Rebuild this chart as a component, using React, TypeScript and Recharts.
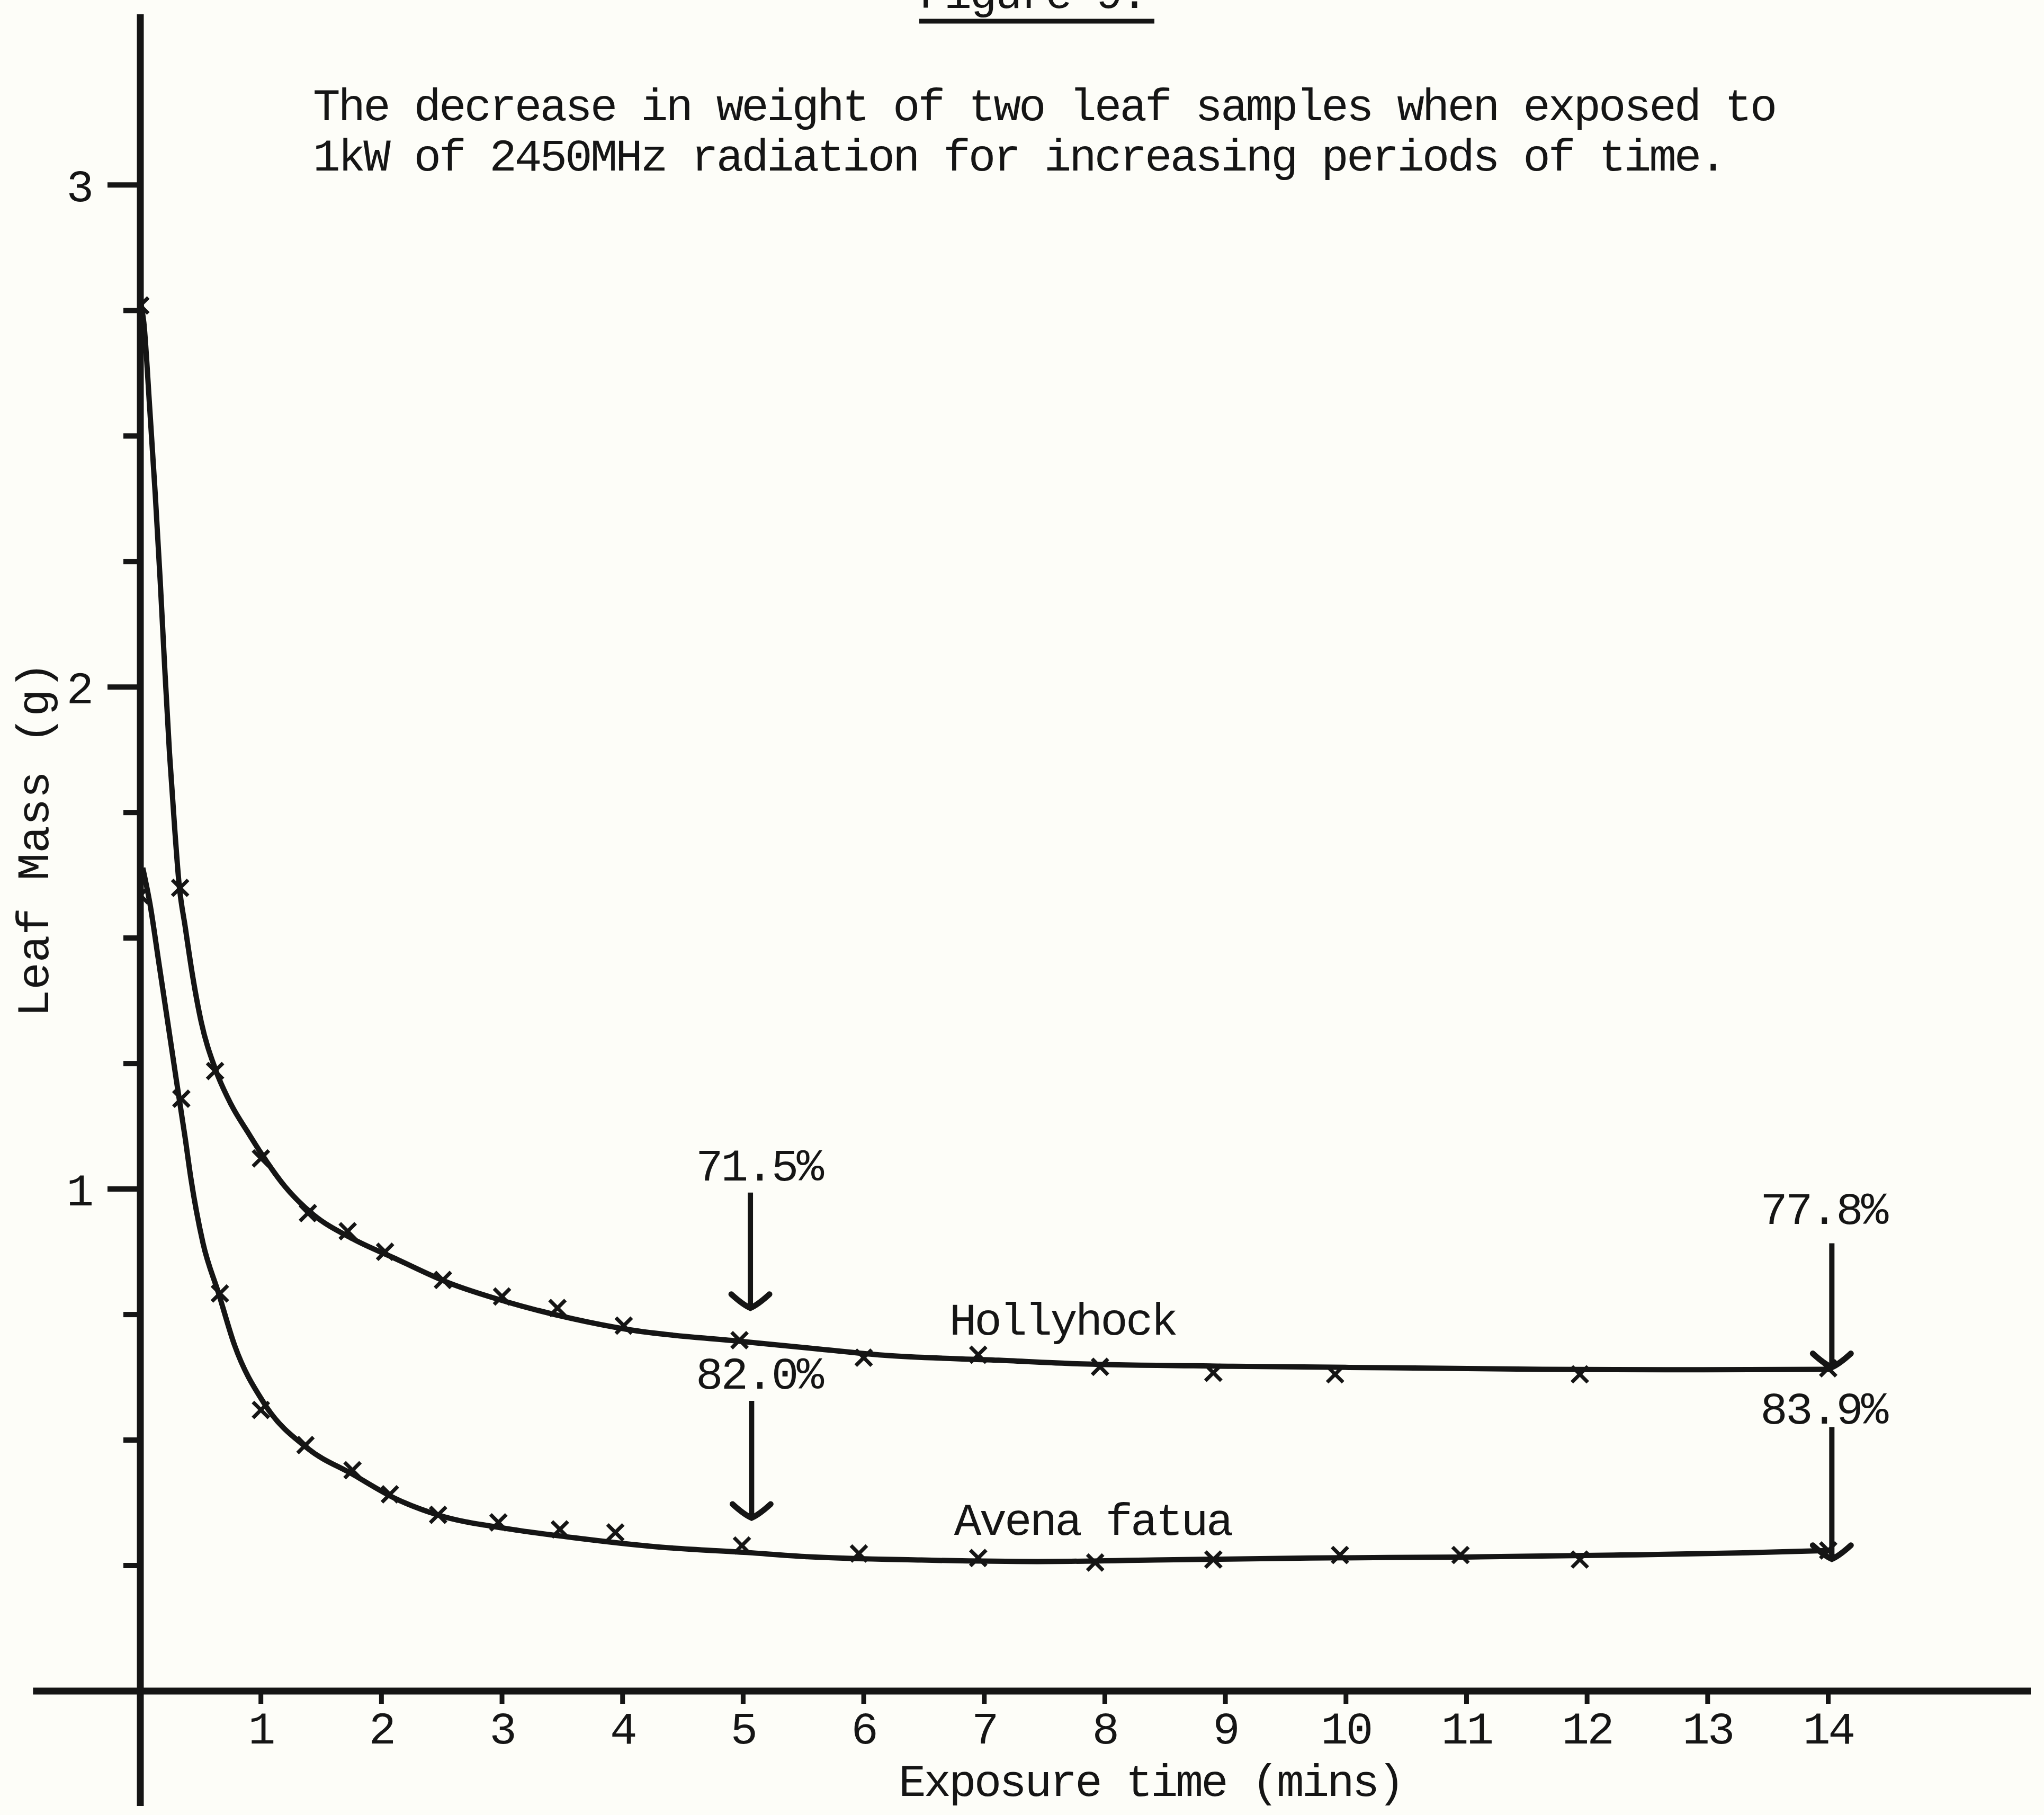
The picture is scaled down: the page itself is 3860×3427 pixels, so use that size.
import React from 'react';
import { LineChart, Line, XAxis, YAxis, ReferenceLine, ReferenceDot } from 'recharts';

const W = 3860;
const H = 3427;
const INK = '#151515';
const FONT = '"Liberation Mono", "DejaVu Sans Mono", monospace';

// Hollyhock: measured points (exposure time in mins, leaf mass in g)
const hollyTime = [0, 0.33, 0.62, 1.0, 1.39, 1.72, 2.03, 2.51, 3.0, 3.46, 4.01, 4.97, 6.0, 6.95, 7.96, 8.9, 9.91, 11.94, 14.0];
const hollyMass = [2.76, 1.6, 1.235, 1.061, 0.952, 0.916, 0.875, 0.819, 0.786, 0.763, 0.728, 0.699, 0.664, 0.67, 0.646, 0.634, 0.631, 0.631, 0.643];

// Avena fatua: measured points
const avenaTime = [0, 0.34, 0.66, 1.0, 1.37, 1.76, 2.07, 2.47, 2.97, 3.48, 3.94, 4.99, 5.96, 6.95, 7.92, 8.9, 9.95, 10.95, 11.94, 14.0];
const avenaMass = [1.585, 1.18, 0.792, 0.56, 0.49, 0.44, 0.392, 0.351, 0.336, 0.322, 0.316, 0.29, 0.274, 0.265, 0.256, 0.262, 0.271, 0.271, 0.262, 0.28];

// hand-drawn fitted curves
const hollyCurveTime = [0, 0.029, 0.078, 0.124, 0.165, 0.202, 0.242, 0.286, 0.322, 0.373, 0.432, 0.505, 0.622, 0.754, 0.9, 1.0, 1.2, 1.43, 1.76, 2.12, 2.56, 3.03, 3.58, 4.05, 4.96, 5.64, 6.16, 7.12, 7.77, 9.06, 10.34, 11.63, 12.92, 14.02];
const hollyCurveMass = [2.77, 2.726, 2.555, 2.383, 2.211, 2.04, 1.868, 1.715, 1.606, 1.521, 1.427, 1.333, 1.239, 1.168, 1.11, 1.072, 1.005, 0.95, 0.901, 0.861, 0.813, 0.776, 0.742, 0.72, 0.697, 0.681, 0.669, 0.659, 0.652, 0.647, 0.644, 0.641, 0.64, 0.641];
const avenaCurveTime = [0.02, 0.08, 0.154, 0.227, 0.3, 0.373, 0.417, 0.52, 0.651, 0.78, 1.03, 1.39, 1.76, 2.12, 2.48, 3.03, 3.58, 4.3, 5.03, 5.51, 6.48, 7.44, 8.41, 9.7, 10.99, 12.28, 13.24, 14.02];
const avenaCurveMass = [1.64, 1.568, 1.45, 1.333, 1.215, 1.1, 1.025, 0.892, 0.791, 0.69, 0.572, 0.483, 0.432, 0.383, 0.35, 0.324, 0.306, 0.287, 0.276, 0.268, 0.261, 0.258, 0.261, 0.265, 0.267, 0.271, 0.275, 0.28];

const xTicks = [1, 2, 3, 4, 5, 6, 7, 8, 9, 10, 11, 12, 13, 14];
const yTicks = [0.25, 0.5, 0.75, 1, 1.25, 1.5, 1.75, 2, 2.25, 2.5, 2.75, 3];
const yLabelled = [1, 2, 3];

// percentage-loss arrows
const pctText = ['71.5%', '82.0%', '77.8%', '83.9%'];
const pctTime = [5.13, 5.13, 13.96, 13.96];
const pctMass = [1.017, 0.602, 0.931, 0.533];
const arrowTime = [5.06, 5.07, 14.03, 14.03];
const arrowFrom = [0.993, 0.578, 0.892, 0.526];
const arrowTo = [0.763, 0.345, 0.645, 0.263];

// curve names
const seriesNames = ['Hollyhock', 'Avena fatua'];
const nameTime = [6.71, 6.75];
const nameMass = [0.71, 0.311];

const hollyData = hollyTime.map((t, i) => ({ t, m: hollyMass[i] }));
const avenaData = avenaTime.map((t, i) => ({ t, m: avenaMass[i] }));
const hollyCurve = hollyCurveTime.map((t, i) => ({ t, m: hollyCurveMass[i] }));
const avenaCurve = avenaCurveTime.map((t, i) => ({ t, m: avenaCurveMass[i] }));

const textStyle = { fontFamily: FONT, fontSize: 86, letterSpacing: -4, fill: INK };

const Cross = (p: any) => {
  const { cx, cy, index } = p;
  if (cx == null || cy == null) return <g key={`c-${index}`} />;
  const s = 15;
  return (
    <g key={`c-${index}`}>
      <line x1={cx - s} y1={cy - s} x2={cx + s} y2={cy + s} stroke={INK} strokeWidth={7} />
      <line x1={cx - s} y1={cy + s} x2={cx + s} y2={cy - s} stroke={INK} strokeWidth={7} />
    </g>
  );
};

const YTick = (p: any) => {
  const { x, y, payload } = p;
  const major = yLabelled.includes(payload.value);
  const len = major ? 62 : 32;
  return (
    <g>
      <line x1={x - len} x2={x} y1={y} y2={y} stroke={INK} strokeWidth={10} />
      {major && (
        <text x={x - 92} y={y} dy="0.36em" textAnchor="end" {...textStyle}>
          {payload.value}
        </text>
      )}
    </g>
  );
};

const Arrow = (p: any) => {
  const { x1, y1, x2, y2 } = p;
  return (
    <g>
      <line x1={x1} y1={y1} x2={x2} y2={y2} stroke={INK} strokeWidth={10} />
      <path
        d={`M${x2 - 36},${y2 - 26} Q${x2 - 14},${y2 - 6} ${x2},${y2} Q${x2 + 14},${y2 - 6} ${x2 + 36},${y2 - 26}`}
        fill="none"
        stroke={INK}
        strokeWidth={11}
        strokeLinecap="round"
      />
    </g>
  );
};

const textAt = (value: string, anchor: 'start' | 'middle') => (p: any) => (
  <text x={p.cx} y={p.cy} textAnchor={anchor} {...textStyle}>
    {value}
  </text>
);

const App = () => {
  return (
    <div style={{ position: 'absolute', left: 0, top: 0, width: W, height: H, background: '#fdfdf8' }}>
      <LineChart width={W} height={H} margin={{ top: 27, right: 25, bottom: 34, left: 0 }}>
        <XAxis
          type="number"
          dataKey="t"
          domain={[0, 15.68]}
          allowDataOverflow
          ticks={xTicks}
          interval={0}
          height={200}
          tickSize={24}
          tickMargin={14}
          axisLine={{ stroke: INK, strokeWidth: 13 }}
          tickLine={{ stroke: INK, strokeWidth: 9 }}
          tick={{ fill: INK, fontSize: 86, fontFamily: FONT, letterSpacing: -4 }}
        />
        <YAxis
          type="number"
          domain={[0, 3.34]}
          allowDataOverflow
          ticks={yTicks}
          interval={0}
          width={265}
          tickSize={0}
          tickMargin={0}
          tickLine={false}
          axisLine={{ stroke: INK, strokeWidth: 13 }}
          tick={<YTick />}
        />
        <ReferenceLine segment={[{ x: -0.89, y: 0 }, { x: 0, y: 0 }]} stroke={INK} strokeWidth={13} ifOverflow="visible" />
        <ReferenceLine segment={[{ x: 0, y: 0 }, { x: 0, y: -0.229 }]} stroke={INK} strokeWidth={13} ifOverflow="visible" />

        <Line
          data={hollyCurve}
          dataKey="m"
          type="monotone"
          stroke={INK}
          strokeWidth={10}
          dot={false}
          activeDot={false}
          isAnimationActive={false}
        />
        <Line
          data={avenaCurve}
          dataKey="m"
          type="monotone"
          stroke={INK}
          strokeWidth={10}
          dot={false}
          activeDot={false}
          isAnimationActive={false}
        />
        <Line
          data={hollyData}
          dataKey="m"
          stroke="none"
          strokeWidth={0}
          dot={Cross}
          activeDot={false}
          isAnimationActive={false}
        />
        <Line
          data={avenaData}
          dataKey="m"
          stroke="none"
          strokeWidth={0}
          dot={Cross}
          activeDot={false}
          isAnimationActive={false}
        />

        {arrowTime.map((t, i) => (
          <ReferenceLine
            key={`a-${i}`}
            segment={[{ x: t, y: arrowFrom[i] }, { x: t, y: arrowTo[i] }]}
            ifOverflow="visible"
            shape={Arrow}
          />
        ))}
        {pctText.map((s, i) => (
          <ReferenceDot key={`p-${i}`} x={pctTime[i]} y={pctMass[i]} r={0} ifOverflow="visible" shape={textAt(s, 'middle')} />
        ))}
        {seriesNames.map((s, i) => (
          <ReferenceDot key={`n-${i}`} x={nameTime[i]} y={nameMass[i]} r={0} ifOverflow="visible" shape={textAt(s, 'start')} />
        ))}
      </LineChart>

      <svg width={W} height={H} style={{ position: 'absolute', left: 0, top: 0, pointerEvents: 'none' }}>
        <text x={1736} y={15} {...textStyle}>Figure 9.</text>
        <line x1={1736} x2={2180} y1={40} y2={40} stroke={INK} strokeWidth={9} />
        <text x={591} y={227} {...textStyle}>The decrease in weight of two leaf samples when exposed to</text>
        <text x={591} y={322} {...textStyle}>1kW of 2450MHz radiation for increasing periods of time.</text>
        <text x={2173} y={3391} textAnchor="middle" {...textStyle}>Exposure time (mins)</text>
        <text x={91} y={1585} textAnchor="middle" transform="rotate(-90 91 1585)" {...textStyle} letterSpacing={0}>
          Leaf Mass (g)
        </text>
      </svg>
    </div>
  );
};

export default App;
